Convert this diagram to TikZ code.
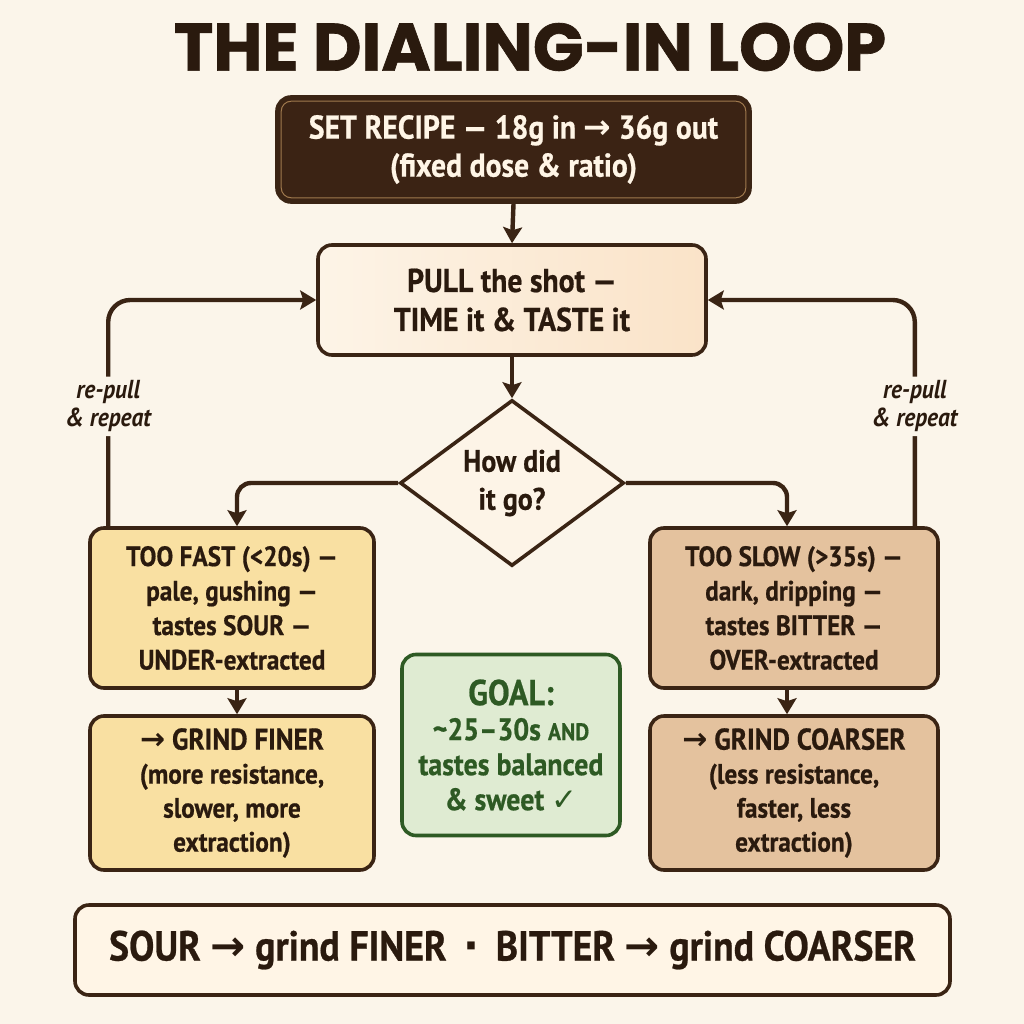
\documentclass[tikz,border=0pt]{standalone}
\usepackage{fontspec}
\setmainfont{PT Sans}[FakeStretch=0.9,BoldFeatures={FakeBold=0.6}]
\newfontfamily\titlefont{Poppins}[BoldFeatures={FakeBold=1}]
\newfontfamily\symfont{DejaVu Sans}
\usetikzlibrary{shapes.geometric,arrows.meta,calc}
\definecolor{bg}{HTML}{FBF5EA}
\definecolor{ink}{HTML}{3A2414}
\definecolor{txt}{HTML}{2A1A0E}
\definecolor{topfill}{HTML}{3B2314}
\definecolor{topline}{HTML}{A07A4E}
\definecolor{cream}{HTML}{FFF5E6}
\definecolor{pullA}{HTML}{FDF4E7}
\definecolor{pullB}{HTML}{FAE3C8}
\definecolor{yel}{HTML}{F9E0A2}
\definecolor{tan}{HTML}{E4C29E}
\definecolor{gfill}{HTML}{DFEBD2}
\definecolor{gline}{HTML}{2E5A24}
\newcommand{\ar}{{\symfont\bfseries →}}
\begin{document}
\begin{tikzpicture}[x=1pt,y=-1pt,
  box/.style={draw=ink,line width=3.6pt,rounded corners=14pt,align=center,text=txt,font=\bfseries\fontsize{27}{34}\selectfont,inner sep=0pt},
  arr/.style={draw=ink,line width=4.4pt,-{Stealth[length=16pt,width=19pt,inset=3pt]}},
  side/.style={font=\bfseries\itshape\fontsize{26}{28}\selectfont,text=txt,align=center,fill=bg,inner sep=4pt}
]
\useasboundingbox[fill=bg] (0,0) rectangle (1024,1024);
\node[font=\titlefont\bfseries\fontsize{67}{67}\selectfont,text=txt] (title) at (530,47) {THE DIALING-IN LOOP};

\node[box,fill=topfill,draw=ink,text=cream,minimum width=473,minimum height=105,font=\bfseries\fontsize{33}{38}\selectfont] (top) at (513.5,149.5) {SET RECIPE — 18g in \ar{} 36g out\\(fixed dose \& ratio)};
\draw[topline,line width=1pt,rounded corners=10pt] ([shift={(6,6)}]top.north west) rectangle ([shift={(-6,-6)}]top.south east);

\node[box,left color=pullA,right color=pullB,minimum width=388,minimum height=110,font=\bfseries\fontsize{33}{39}\selectfont] (pull) at (512,300) {PULL the shot —\\TIME it \& TASTE it};

\node[draw=ink,line width=3.6pt,fill=pullA,diamond,aspect=1.35,minimum width=224,minimum height=166,inner sep=0pt,align=center,text=txt,font=\bfseries\fontsize{31}{38}\selectfont] (dia) at (512,483) {How did\\it go?};

\node[box,fill=yel,minimum width=284,minimum height=160,font=\bfseries\fontsize{28}{34.5}\selectfont] (fast) at (232,608) {TOO FAST (<20s) —\\pale, gushing —\\tastes SOUR —\\UNDER-extracted};
\node[box,fill=yel,minimum width=284,minimum height=154] (finer) at (232,793) {{\fontsize{30}{34}\selectfont\ar{} GRIND FINER}\\{\fontsize{28}{31}\selectfont(more resistance,}\\{\fontsize{28}{31}\selectfont slower, more}\\{\fontsize{28}{31}\selectfont extraction)}};

\node[box,fill=tan,minimum width=288,minimum height=160,font=\bfseries\fontsize{28}{34.5}\selectfont] (slow) at (794,608) {TOO SLOW (>35s) —\\dark, dripping —\\tastes BITTER —\\OVER-extracted};
\node[box,fill=tan,minimum width=288,minimum height=154] (coarser) at (794,793) {{\fontsize{30}{34}\selectfont\ar{} GRIND COARSER}\\{\fontsize{28}{31}\selectfont(less resistance,}\\{\fontsize{28}{31}\selectfont faster, less}\\{\fontsize{28}{31}\selectfont extraction)}};

\node[box,fill=gfill,draw=gline,text=gline,minimum width=218,minimum height=181,font=\bfseries\fontsize{31}{35}\selectfont] (goal) at (511,745) {{\fontsize{36}{38}\selectfont GOAL:}\\\char`\~25–30s {\fontsize{24}{30}\selectfont AND}\\tastes balanced\\\& sweet {\symfont\bfseries ✓}};

\node[box,fill=cream,minimum width=875,minimum height=90,font=\bfseries\fontsize{42}{50}\selectfont] (rule) at (512.5,950) {SOUR \ar{} grind FINER \,{\symfont\bfseries ·}\, BITTER \ar{} grind COARSER};

\draw[arr] (top.south) -- (pull.north);
\draw[arr] (pull.south) -- (dia.north);
\draw[arr,rounded corners=14pt] (dia.west) -| ([xshift=5pt]fast.north);
\draw[arr,rounded corners=14pt] (dia.east) -| ([xshift=-7pt]slow.north);
\draw[arr] ([xshift=5pt]fast.south) -- ([xshift=5pt]finer.north);
\draw[arr] ([xshift=-7pt]slow.south) -- ([xshift=-7pt]coarser.north);
\draw[arr,rounded corners=22pt] ([xshift=20pt]fast.north west) |- node[side,pos=0.265] {re-pull\\\& repeat} (pull.west);
\draw[arr,rounded corners=22pt] ([xshift=-25pt]slow.north east) |- node[side,pos=0.265] {re-pull\\\& repeat} (pull.east);
\end{tikzpicture}
\end{document}
